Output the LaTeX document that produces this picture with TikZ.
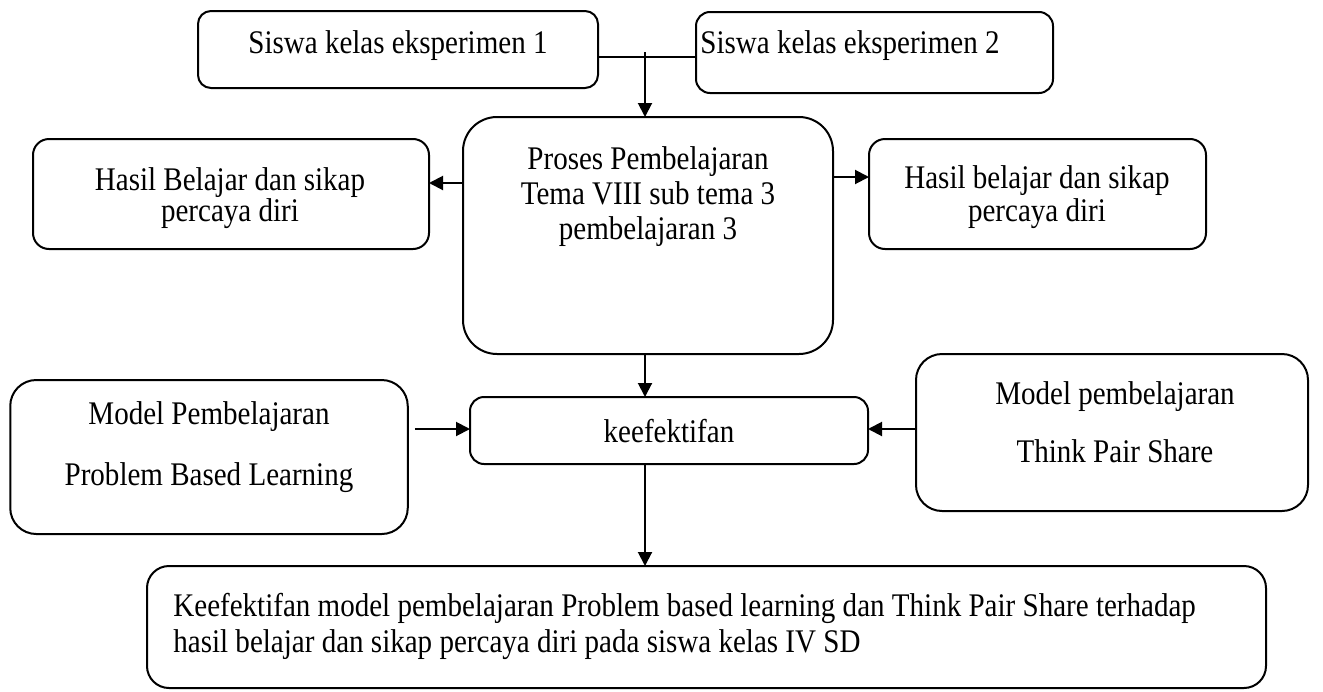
\documentclass[tikz,border=0pt]{standalone}
\usepackage{fontspec}
\setmainfont[FakeStretch=0.88]{Liberation Serif}
\usetikzlibrary{arrows.meta}
\tikzset{
  box/.style={draw, line width=1pt, inner sep=0pt, outer sep=0pt},
  txt/.style={inner sep=0pt, font=\fontsize{16.5}{17.5}\selectfont},
  arr/.style={line width=1pt, -{Triangle[length=7pt,width=7pt]}},
  con/.style={line width=1pt}
}
\begin{document}
\begin{tikzpicture}[x=0.5pt,y=-0.5pt]
\useasboundingbox (0,0) rectangle (1323,691);
% boxes
\node[box, rounded corners=6.5pt, minimum width=200pt, minimum height=38.5pt] (A) at (398,49.5) {};
\node[box, rounded corners=7pt, minimum width=178.5pt, minimum height=40.5pt] (B) at (874.5,52.5) {};
\node[box, rounded corners=17pt, minimum width=185pt, minimum height=118.5pt] (P) at (648,235.5) {};
\node[box, rounded corners=8pt, minimum width=198pt, minimum height=55pt] (HL) at (231,194) {};
\node[box, rounded corners=8pt, minimum width=168.5pt, minimum height=55pt] (HR) at (1037.5,194) {};
\node[box, rounded corners=7pt, minimum width=199pt, minimum height=33.5pt] (K) at (669,430.5) {};
\node[box, rounded corners=13pt, minimum width=198.75pt, minimum height=77pt] (ML) at (209,457) {};
\node[box, rounded corners=13pt, minimum width=196pt, minimum height=78.5pt] (MR) at (1112,432.5) {};
\node[box, rounded corners=11pt, minimum width=559.5pt, minimum height=61pt] (Bot) at (706.5,627) {};
% texts
\node[txt] (At) at (398,46) {Siswa kelas eksperimen 1};
\node[txt, anchor=west] (Bt) at (700,46) {Siswa kelas eksperimen 2};
\node[txt, align=center] (Pt) at (648,197) {Proses Pembelajaran\\Tema VIII sub tema 3\\pembelajaran 3};
\node[txt, align=center, font=\fontsize{16.5}{15.5}\selectfont] (HLt) at (230,198) {Hasil Belajar dan sikap\\percaya diri};
\node[txt, align=center, font=\fontsize{16.5}{16.5}\selectfont] (HRt) at (1037,197) {Hasil belajar dan sikap\\percaya diri};
\node[txt] (Kt) at (669,431) {keefektifan};
\node[txt, align=center, font=\fontsize{16.5}{30.5}\selectfont] (MLt) at (209,447.5) {Model Pembelajaran\\Problem Based Learning};
\node[txt, align=center, font=\fontsize{16.5}{29}\selectfont] (MRt) at (1115,422) {Model pembelajaran\\Think Pair Share};
\node[txt, align=left, anchor=west, font=\fontsize{16.5}{18}\selectfont] (Bott) at (173,626) {Keefektifan model pembelajaran Problem based learning dan Think Pair Share terhadap\\hasil belajar dan sikap percaya diri pada siswa kelas IV SD};
% connectors
\coordinate (J) at (645,57);
\coordinate (Jt) at (645,52);
\draw[con] (A.east |- J) -- (B.west |- J);
\draw[arr] (Jt) -- (Jt |- P.north);
\draw[arr] (P.west |- 0,183) -- (HL.east |- 0,183);
\draw[arr] (P.east |- 0,177) -- (HR.west |- 0,177);
\draw[arr] (J |- P.south) -- (J |- K.north);
\draw[arr, shorten <=3.5pt] (ML.east |- 0,429) -- (K.west |- 0,429);
\draw[arr] (MR.west |- 0,429) -- (K.east |- 0,429);
\draw[arr] (J |- K.south) -- (J |- Bot.north);
\end{tikzpicture}
\end{document}
